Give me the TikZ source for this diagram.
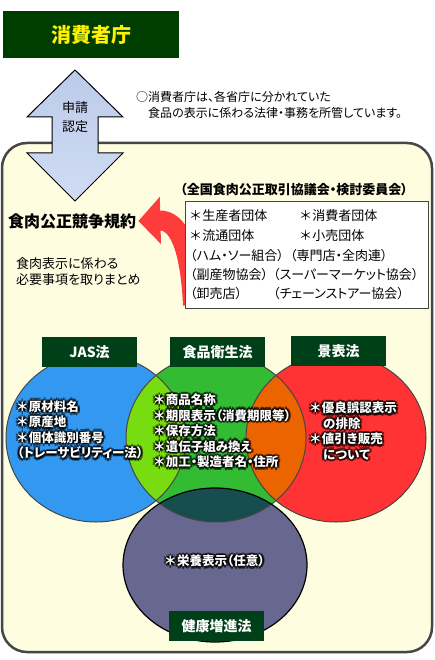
\documentclass[tikz,border=0pt]{standalone}
\usepackage{fontspec}
\setmainfont[RawFeature={+palt}]{Noto Sans CJK JP}
\usetikzlibrary{arrows.meta}
\definecolor{cagreen}{RGB}{0,62,0}
\definecolor{hdgreen}{RGB}{0,64,24}
\definecolor{paper}{RGB}{255,253,224}
\definecolor{framegray}{RGB}{70,70,70}
\definecolor{jasblue}{RGB}{51,153,240}
\definecolor{foodgreen}{RGB}{51,187,51}
\definecolor{limegreen}{RGB}{119,221,17}
\definecolor{adred}{RGB}{255,51,51}
\definecolor{adorange}{RGB}{236,100,0}
\definecolor{healthpurple}{RGB}{103,103,143}
\definecolor{deepteal}{RGB}{24,77,80}
\definecolor{bigred}{RGB}{255,60,60}

% white bold text with a dark halo
\newcommand{\glowlabel}[4]{%
  \foreach \gx/\gy in {1.3/0,-1.3/0,0/1.3,0/-1.3,2.2/1.2,-2.2/1.2,2.2/-1.2,-2.2/-1.2,0/2.6,0/-2.6}
    \node[venntext, text=black, opacity=0.55, anchor=#3] at ([shift={(\gx,\gy)}]#2) {#4};
  \node[venntext, anchor=#3] (#1) at (#2) {#4};}
\newcommand{\bullitem}{＊\kern1.5pt}

\begin{document}
\begin{tikzpicture}[x=1pt, y=-1pt,
    venntext/.style={text=white, font=\fontsize{12.5}{15.5}\selectfont\bfseries, align=left, inner sep=0pt},
    lawhead/.style={fill=hdgreen, text=white, font=\fontsize{14}{16}\selectfont\bfseries, minimum width=95pt, minimum height=30pt, inner sep=0pt},
    member/.style={anchor=west, inner sep=0pt, font=\fontsize{13}{15}\selectfont},
    plain/.style={anchor=west, inner sep=0pt, align=left}]
  \useasboundingbox (0,0) rectangle (435,660);

  % frame
  \draw[framegray, line width=2.5pt, fill=paper, rounded corners=25pt] (2,143) rectangle (432,652);

  \node[fill=cagreen, minimum width=176pt, minimum height=47pt, inner sep=0pt, text=yellow, font=\fontsize{20}{22}\selectfont\bfseries] (cao) at (91,34.5) {消費者庁};

  % two way arrow
  \draw[black, line width=1pt, top color={rgb,255:red,188;green,203;blue,234}, bottom color={rgb,255:red,208;green,220;blue,243}]
    (75,70) -- (123,117) -- (98,117) -- (98,153) -- (123,153) -- (75,201) -- (27,153) -- (52,153) -- (52,117) -- (27,117) -- cycle;
  \node[align=center, inner sep=0pt, font=\fontsize{13}{19}\selectfont] (apply) at (75,117.5) {申請\\認定};

  \node[plain, font=\fontsize{12}{14}\selectfont] (note1) at (136,97) {○消費者庁は、各省庁に分かれていた};
  \node[plain, font=\fontsize{12}{14}\selectfont] (note2) at (148,113) {食品の表示に係わる法律・事務を所管しています。};

  \node[plain, font=\fontsize{16}{18}\selectfont\bfseries] (rule) at (8,221) {食肉公正競争規約};
  \node[plain, font=\fontsize{13}{16}\selectfont] (summary) at (16,272) {食肉表示に係わる\\必要事項を取りまとめ};

  \coordinate (tail) at (193,305);
  \draw[bigred, line width=20pt, -{Triangle[length=22pt,width=46pt]}] (tail) .. controls (190,245) and (178,220) .. ([xshift=2pt]rule.east);

  \node[draw=framegray, fill=white, line width=0.8pt, minimum width=243pt, minimum height=107pt, inner sep=0pt] (members) at (306.5,254.5) {};
  \node[font=\fontsize{13}{15}\selectfont\bfseries, inner sep=0pt] (council) at (294,190) {（全国食肉公正取引協議会・検討委員会）};
  \foreach \mx/\my/\mtext [count=\i] in {
      190/216/\bullitem 生産者団体, 300/216/\bullitem 消費者団体,
      190/236/\bullitem 流通団体, 300/236/\bullitem 小売団体,
      190/256/（ハム・ソー組合）, 290/256/（専門店・全肉連）,
      190/275/（副産物協会）, 273/275/（スーパーマーケット協会）,
      190/294/（卸売店）, 273/294/（チェーンストアー協会）}
    \node[member] (m\i) at (\mx,\my) {\mtext};

  % venn
  \fill[jasblue] (96,438) ellipse [x radius=90pt, y radius=84pt];
  \fill[foodgreen] (216,438) ellipse [x radius=90pt, y radius=84pt];
  \fill[adred] (336,438) ellipse [x radius=90pt, y radius=84pt];
  \begin{scope}
    \clip (96,438) ellipse [x radius=90pt, y radius=84pt];
    \fill[limegreen] (216,438) ellipse [x radius=90pt, y radius=84pt];
  \end{scope}
  \begin{scope}
    \clip (336,438) ellipse [x radius=90pt, y radius=84pt];
    \fill[adorange] (216,438) ellipse [x radius=90pt, y radius=84pt];
  \end{scope}
  \fill[healthpurple] (215,565) ellipse [x radius=92pt, y radius=77pt];
  \begin{scope}
    \clip (215,565) ellipse [x radius=92pt, y radius=77pt];
    \fill[deepteal] (216,438) ellipse [x radius=90pt, y radius=84pt];
  \end{scope}
  \draw[framegray, line width=1pt] (96,438) ellipse [x radius=90pt, y radius=84pt];
  \draw[framegray, line width=1pt] (216,438) ellipse [x radius=90pt, y radius=84pt];
  \draw[framegray, line width=1pt] (336,438) ellipse [x radius=90pt, y radius=84pt];
  \draw[black, line width=1.2pt] (215,565) ellipse [x radius=92pt, y radius=77pt];

  \node[lawhead] (jas) at (89.5,352) {JAS法};
  \node[lawhead] (hygiene) at (217.5,352) {食品衛生法};
  \node[lawhead] (premium) at (338.5,351) {景表法};
  \node[lawhead] (health) at (216.5,626) {健康増進法};

  \glowlabel{jastext}{17,430}{west}{\bullitem 原材料名\\\bullitem 原産地\\\bullitem 個体識別番号\\（トレーサビリティー法）}
  \glowlabel{hygienetext}{154,431}{west}{\bullitem 商品名称\\\bullitem 期限表示（消費期限等）\\\bullitem 保存方法\\\bullitem 遺伝子組み換え\\\bullitem 加工・製造者名・住所}
  \glowlabel{premiumtext}{310,431}{west}{\bullitem 優良誤認表示\\\hspace*{13pt}の排除\\\bullitem 値引き販売\\\hspace*{13pt}について}
  \glowlabel{healthtext}{215,561}{center}{\bullitem 栄養表示（任意）}
\end{tikzpicture}
\end{document}
